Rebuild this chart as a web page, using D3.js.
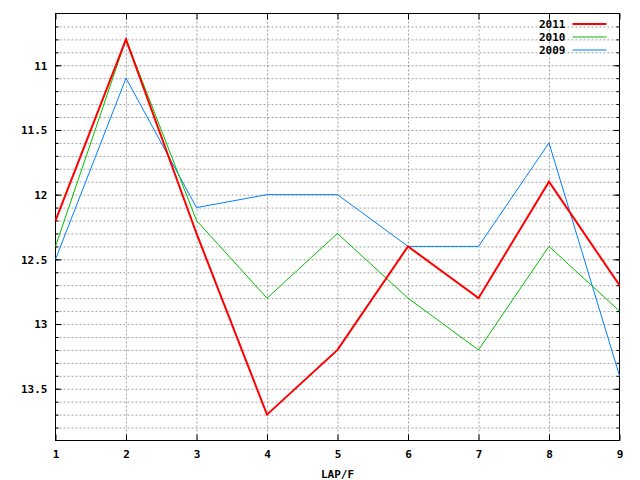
<!DOCTYPE html>
<html>
<head>
<meta charset="utf-8">
<script src="https://cdn.jsdelivr.net/npm/d3@7"></script>
<style>
  body { margin: 0; background: #fff; }
  text { font-family: "DejaVu Sans Mono", monospace; font-size: 11px; font-weight: bold; fill: #000; }
</style>
</head>
<body>
<div id="chart"></div>
<script>
// Lap numbers and lap times per season
const laps = [1, 2, 3, 4, 5, 6, 7, 8, 9];
const times2011 = [12.2, 10.8, 12.3, 13.7, 13.2, 12.4, 12.8, 11.9, 12.7];
const times2010 = [12.4, 10.8, 12.2, 12.8, 12.3, 12.8, 13.2, 12.4, 12.9];
const times2009 = [12.5, 11.1, 12.1, 12.0, 12.0, 12.4, 12.4, 11.6, 13.4];
const yTicks = [11, 11.5, 12, 12.5, 13, 13.5];
const yMinorTicks = d3.range(107, 139).map(d => d / 10);

const series = [
  { name: "2011", values: times2011, color: "#ff0000", width: 2 },
  { name: "2010", values: times2010, color: "#00c000", width: 1 },
  { name: "2009", values: times2009, color: "#0080ff", width: 1 }
];

const W = 640, H = 480;
const margin = { top: 13.5, right: 20.5, bottom: 39.5, left: 55.5 };
const width = W - margin.left - margin.right;
const height = H - margin.top - margin.bottom;

const svg = d3.select("#chart").append("svg")
  .attr("width", W)
  .attr("height", H)
  .append("g")
  .attr("transform", `translate(${margin.left},${margin.top})`);

const x = d3.scaleLinear().domain([1, 9]).range([0, width]);
const y = d3.scaleLinear().domain([10.6, 13.9]).range([0, height]);

// Grid: horizontal every 0.1, vertical on each lap
const gridY = svg.append("g")
  .call(d3.axisLeft(y).tickValues(yMinorTicks).tickSize(-width).tickFormat(""));
const gridX = svg.append("g")
  .call(d3.axisBottom(x).tickValues(laps.slice(1, -1)).tickSize(height).tickFormat(""));
[gridX, gridY].forEach(g => {
  g.select(".domain").remove();
  g.selectAll("line")
    .attr("stroke", "#a0a0a0")
    .attr("stroke-dasharray", "2,2");
});

// Minor ticks left/right
svg.append("g").call(d3.axisLeft(y).tickValues(yMinorTicks).tickSize(-3).tickFormat(""))
  .select(".domain").remove();
svg.append("g").attr("transform", `translate(${width},0)`)
  .call(d3.axisRight(y).tickValues(yMinorTicks).tickSize(-3).tickFormat(""))
  .select(".domain").remove();

// Major axes
const yAxis = svg.append("g")
  .call(d3.axisLeft(y).tickValues(yTicks).tickSize(-6).tickPadding(8).tickFormat(d3.format("")));
svg.append("g").attr("transform", `translate(${width},0)`)
  .call(d3.axisRight(y).tickValues(yTicks).tickSize(-6).tickFormat(""))
  .select(".domain").remove();
const xAxis = svg.append("g").attr("transform", `translate(0,${height})`)
  .call(d3.axisBottom(x).tickValues(laps).tickSize(-6).tickPadding(10).tickFormat(d3.format("d")));
svg.append("g")
  .call(d3.axisTop(x).tickValues(laps).tickSize(-6).tickFormat(""))
  .select(".domain").remove();
[yAxis, xAxis].forEach(g => {
  g.select(".domain").remove();
  g.selectAll("text").attr("fill", "#000").style("font-size", "11px");
});
yAxis.selectAll("text").attr("dy", "0.35em");
xAxis.selectAll("text").attr("dy", "0.71em");

// Border
svg.append("rect")
  .attr("width", width)
  .attr("height", height)
  .attr("fill", "none")
  .attr("stroke", "#000");

// Lines
const line = d3.line()
  .x((d, i) => x(laps[i]))
  .y(d => y(d));

series.slice().reverse().forEach(s => {
  svg.append("path")
    .datum(s.values)
    .attr("fill", "none")
    .attr("stroke", s.color)
    .attr("stroke-width", s.width)
    .attr("d", line);
});

// Legend
series.forEach((s, i) => {
  const ly = 10.5 + i * 13;
  svg.append("text")
    .attr("x", 510)
    .attr("y", ly + 4)
    .attr("text-anchor", "end")
    .text(s.name);
  svg.append("line")
    .attr("x1", 517)
    .attr("x2", 551)
    .attr("y1", ly)
    .attr("y2", ly)
    .attr("stroke", s.color)
    .attr("stroke-width", s.width);
});

// X axis label
svg.append("text")
  .attr("x", width / 2)
  .attr("y", height + 37)
  .attr("text-anchor", "middle")
  .text("LAP/F");
</script>
</body>
</html>
